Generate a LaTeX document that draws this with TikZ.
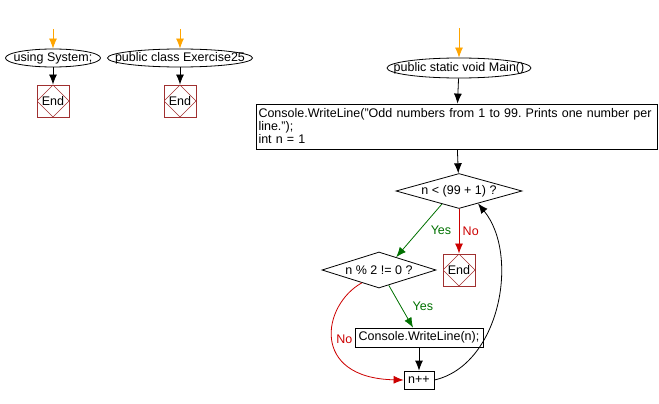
\documentclass[tikz,border=0pt]{standalone}
\usepackage{fontspec}
\setmainfont{Liberation Sans}
\usepackage{tikz}
\usetikzlibrary{arrows.meta,positioning,calc,shapes.geometric}
\definecolor{flowred}{RGB}{204,0,0}
\definecolor{flowgreen}{RGB}{0,112,0}
\definecolor{flowbrown}{RGB}{160,48,48}
\definecolor{floworange}{RGB}{255,165,0}
\frenchspacing

\begin{document}
\begin{tikzpicture}[x=1pt, y=-1pt, >={Latex[length=10pt,width=8pt]},
  font=\fontsize{12.5}{13}\selectfont,
  startnode/.style={draw, ellipse, inner sep=0pt, line width=0.8pt},
  endnode/.style={draw=flowbrown, line width=0.9pt, minimum size=32pt, inner sep=0pt,
    path picture={\draw[flowbrown, line width=0.6pt] (path picture bounding box.north) -- (path picture bounding box.east) -- (path picture bounding box.south) -- (path picture bounding box.west) -- cycle;}},
  stepbox/.style={draw, line width=0.8pt, inner sep=0pt},
  testnode/.style={draw, diamond, inner sep=0pt, line width=0.8pt},
  flow/.style={->, line width=0.8pt}]
  \useasboundingbox (0,0) rectangle (659,404);

  % two lone entries on the left
  \node[startnode, minimum width=95pt, minimum height=18pt] (using) at (53,58) {\makebox[0pt]{using System;}};
  \node[startnode, minimum width=145pt, minimum height=18pt] (class) at (180,58) {\makebox[0pt]{public class Exercise25}};
  \node[endnode] (end1) at (53,101) {End};
  \node[endnode] (end2) at (180,101) {End};
  \coordinate (in1) at (53,29);
  \coordinate (in2) at (180,29);
  \draw[flow, floworange] (in1) -- (using);
  \draw[flow, floworange] (in2) -- (class);
  \draw[flow] (using) -- (end1);
  \draw[flow] (class) -- (end2);

  % main method
  \node[startnode, minimum width=144pt, minimum height=20pt] (main) at (459,68) {\makebox[0pt]{public static void Main()}};
  \node[stepbox, minimum width=401pt, minimum height=45pt, text width=396pt, align=left] (init) at (456.5,126.5) {Console.WriteLine("Odd numbers from 1 to 99. Prints one number per\\line.");\\int n = 1};
  \node[testnode, minimum width=126pt, minimum height=35pt, aspect=3.6] (loop) at (459,191) {n < (99 + 1) ?};
  \node[endnode] (end3) at (459,270) {End};
  \node[testnode, minimum width=114pt, minimum height=36pt, aspect=3.2] (odd) at (379,270) {n \% 2 != 0 ?};
  \node[stepbox, minimum width=128pt, minimum height=19pt] (write) at (419,337.5) {Console.WriteLine(n);};
  \node[stepbox, minimum width=30pt, minimum height=18pt] (inc) at (419,380) {n++};
  \coordinate (in3) at (459,28);

  \draw[flow, floworange] (in3) -- (main);
  \draw[flow] (main) -- (init);
  \draw[flow] (init) -- (loop);
  \draw[flow, flowgreen] ($(loop.south)!0.27!(loop.west)$) -- node[right, xshift=8pt] {Yes} ($(odd.north)!0.3!(odd.east)$);
  \draw[flow, flowred] (loop) -- node[right] {No} (end3);
  \draw[flow, flowgreen] ($(odd.south)!0.17!(odd.east)$) -- node[right, xshift=8pt] {Yes} ([xshift=-6pt]write.north);
  \draw[flow] (write) -- (inc);
  \draw[flow, flowred] ($(odd.south)!0.3!(odd.west)$) .. controls (322,305) and (310,378) .. node[right] {No} (inc.west);
  % back to the test
  \draw[flow] (inc.east) .. controls (500,365) and (520,255) .. ($(loop.south)!0.3!(loop.east)$);
\end{tikzpicture}
\end{document}
